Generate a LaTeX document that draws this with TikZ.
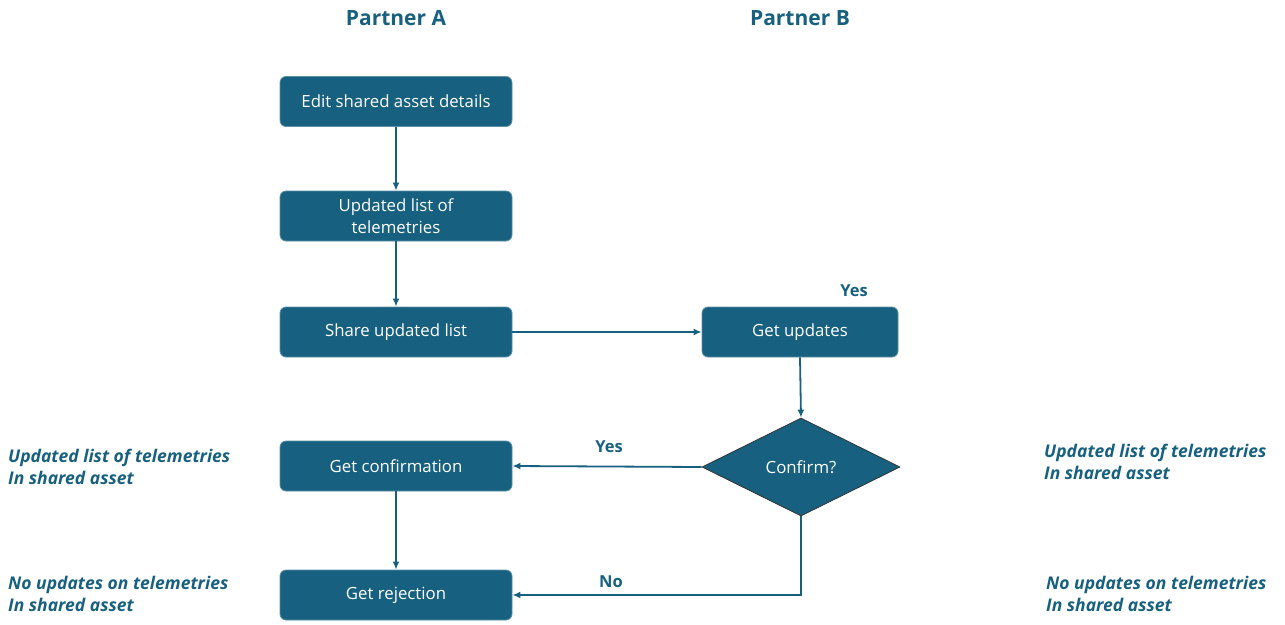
\documentclass[tikz,border=0pt]{standalone}
\usepackage{fontspec}
\setmainfont{Open Sans}
\usetikzlibrary{shapes.geometric,arrows.meta}
\definecolor{flowblue}{HTML}{17607F}
\begin{document}
\begin{tikzpicture}[x=1pt,y=-1pt,
  procbox/.style={draw=flowblue!70!white,line width=0.8pt,fill=flowblue,rounded corners=6pt,
    minimum width=232pt,minimum height=50pt,text=white,font=\fontsize{16.8}{22}\selectfont,align=center,inner sep=0pt},
  decision/.style={draw=black!80,line width=0.8pt,fill=flowblue,diamond,aspect=2,
    minimum width=198pt,minimum height=98pt,text=white,font=\fontsize{16.8}{22}\selectfont,inner sep=0pt},
  flow/.style={draw=flowblue,line width=1.8pt,-{Latex[length=8pt,width=7pt]}},
  lanetitle/.style={text=flowblue,font=\fontsize{21}{25}\selectfont\bfseries},
  answer/.style={text=flowblue,font=\fontsize{16.5}{19}\selectfont\bfseries},
  note/.style={text=flowblue,font=\fontsize{17.5}{22}\selectfont\bfseries\itshape,align=left,anchor=west,inner sep=0pt}]
\useasboundingbox (0,0) rectangle (1285,624);

% lane titles
\node[lanetitle] (titleA) at (396,18) {Partner A};
\node[lanetitle] (titleB) at (800,18) {Partner B};

% Partner A steps
\node[procbox] (edit) at (396,101.5) {Edit shared asset details};
\node[procbox] (list) at (396,216) {Updated list of\\telemetries};
\node[procbox] (share) at (396,332) {Share updated list};
\node[procbox] (confirm) at (396,466) {Get confirmation};
\node[procbox] (reject) at (396,595) {Get rejection};

% Partner B steps
\node[procbox,minimum width=196pt] (updates) at (800,332) {Get updates};
\node[decision] (ask) at (801,467) {Confirm?};

% connectors
\draw[flow] (edit.south) -- (list.north);
\draw[flow] (list.south) -- (share.north);
\draw[flow] (share.east) -- (updates.west);
\draw[flow] (updates.south) -- (ask.north);
\draw[flow] (ask.west) -- (confirm.east);
\draw[flow] (confirm.south) -- (reject.north);
\draw[flow] (ask.south) |- (reject.east);

% answer labels
\node[answer] (yesTop) at (854,291) {Yes};
\node[answer] (yesLeft) at (609,447) {Yes};
\node[answer] (noLeft) at (611,582) {No};

% outcome notes
\node[note] (noteA1) at (8,467) {Updated list of telemetries\\In shared asset};
\node[note] (noteA2) at (8,594) {No updates on telemetries\\In shared asset};
\node[note] (noteB1) at (1044,462) {Updated list of telemetries\\In shared asset};
\node[note] (noteB2) at (1046,594) {No updates on telemetries\\In shared asset};
\end{tikzpicture}
\end{document}
